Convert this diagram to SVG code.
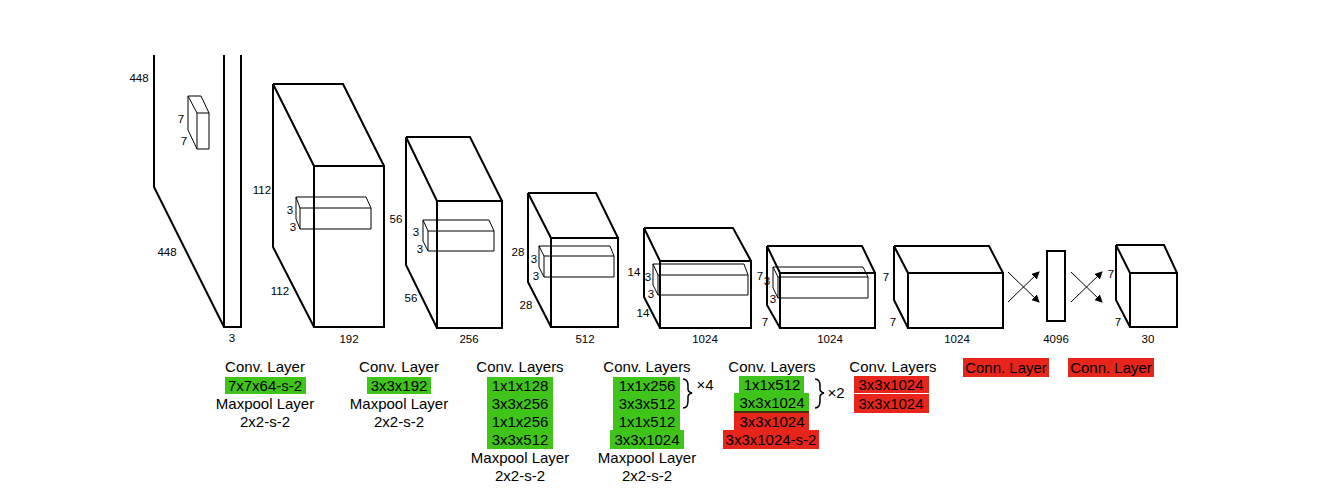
<svg xmlns="http://www.w3.org/2000/svg" width="1339" height="501" viewBox="0 0 1339 501">
<style>
.b{fill:none;stroke:#000;stroke-width:2;stroke-linejoin:miter}
.i{fill:none;stroke:#000;stroke-width:1}
.d{font-family:"Liberation Sans",Arial,sans-serif;font-size:11.5px;fill:#000;text-anchor:middle}
.t{font-family:"Liberation Sans",Arial,sans-serif;font-size:15px;fill:#000;text-anchor:middle}
.g{fill:#3fc51a}
.r{fill:#e8251b}
</style>
<defs><marker id="ah" markerWidth="8" markerHeight="8" refX="7" refY="4" orient="auto" markerUnits="userSpaceOnUse"><path d="M0,0 L8,4 L0,8 Z" fill="#000"/></marker></defs>
<rect width="1339" height="501" fill="#fff"/>
<g id="input">
<path class="b" d="M154,55 V187 L224,327 M224,55 V327 H241 V55"/>
<path class="i" d="M197,113 H209 V149 H197 Z M188,96 H201 L209,113 M188,96 L197,113 M188,96 V130 L197,149"/>
<text class="d" x="139" y="82">448</text><text class="d" x="181" y="123">7</text><text class="d" x="184" y="145">7</text><text class="d" x="167" y="256">448</text><text class="d" x="232" y="342">3</text>
</g>
<g id="conv1">
<path class="b" d="M314,166 H384 V327 H314 Z M273,84 H343 L384,166 M273,84 L314,166 M273,84 V247 L314,327"/>
<path class="i" d="M300,208 H371 V229 H300 Z M296,197 H366 L371,208 M296,197 L300,208 M296,197 V219 L300,229"/>
<text class="d" x="262" y="194">112</text><text class="d" x="290" y="214">3</text><text class="d" x="293" y="231">3</text><text class="d" x="280" y="295">112</text><text class="d" x="349" y="343">192</text>
</g>
<g id="conv2">
<path class="b" d="M437,201 H502 V328 H437 Z M406,137 H470 L502,201 M406,137 L437,201 M406,137 V265 L437,328"/>
<path class="i" d="M428,231 H494 V251 H428 Z M423,220 H489 L494,231 M423,220 L428,231 M423,220 V241 L428,251"/>
<text class="d" x="396" y="223">56</text><text class="d" x="416" y="236">3</text><text class="d" x="420" y="253">3</text><text class="d" x="411" y="302">56</text><text class="d" x="469" y="343">256</text>
</g>
<g id="conv3">
<path class="b" d="M551,238 H618 V327 H551 Z M528,193 H596 L618,238 M528,193 L551,238 M528,193 V282 L551,327"/>
<path class="i" d="M544,256 H614 V277 H544 Z M539,246 H610 L614,256 M539,246 L544,256 M539,246 V267 L544,277"/>
<text class="d" x="518" y="256">28</text><text class="d" x="534" y="263">3</text><text class="d" x="536" y="280">3</text><text class="d" x="526" y="309">28</text><text class="d" x="585" y="343">512</text>
</g>
<g id="conv4">
<path class="b" d="M660,261 H751 V328 H660 Z M644,228 H733 L751,261 M644,228 L660,261 M644,228 V297 L660,328"/>
<path class="i" d="M658,275 H748 V295 H658 Z M653,264 H744 L748,275 M653,264 L658,275 M653,264 V285 L658,295"/>
<text class="d" x="634" y="276">14</text><text class="d" x="648" y="281">3</text><text class="d" x="651" y="298">3</text><text class="d" x="643" y="317">14</text><text class="d" x="705" y="343">1024</text>
</g>
<g id="conv5">
<path class="b" d="M780,273 H875 V328 H780 Z M767,246 H862 L875,273 M767,246 L780,273 M767,246 V305 L780,328"/>
<path class="i" d="M778,277 H868 V298 H778 Z M773,267 H863 L868,277 M773,267 L778,277 M773,267 V288 L778,298"/>
<text class="d" x="760" y="280">7</text><text class="d" x="767" y="285">3</text><text class="d" x="773" y="303">3</text><text class="d" x="765" y="326">7</text><text class="d" x="830" y="343">1024</text>
</g>
<g id="conv6">
<path class="b" d="M908,273 H1003 V328 H908 Z M894,246 H989 L1003,273 M894,246 L908,273 M894,246 V300 L908,328"/>
<text class="d" x="886" y="281">7</text><text class="d" x="893" y="326">7</text><text class="d" x="957" y="343">1024</text>
</g>
<g id="fc1">
<rect class="b" x="1047" y="251" width="18" height="70"/>
<text class="d" x="1056" y="343">4096</text>
</g>
<g id="output">
<path class="b" d="M1130,273 H1177 V327 H1130 Z M1116,245 H1164 L1177,273 M1116,245 L1130,273 M1116,245 V300 L1130,327"/>
<text class="d" x="1111" y="278">7</text><text class="d" x="1118" y="326">7</text><text class="d" x="1148" y="343">30</text>
</g>
<g id="connectors" stroke="#000" stroke-width="1" fill="none">
<path d="M1008,302 L1039,272" marker-end="url(#ah)"/>
<path d="M1008,272 L1039,302" marker-end="url(#ah)"/>
<path d="M1071,302 L1102,272" marker-end="url(#ah)"/>
<path d="M1071,272 L1102,302" marker-end="url(#ah)"/>
</g>
<g id="labels">
<rect class="g" x="225" y="377" width="81" height="17"/>
<text class="t" x="265" y="372">Conv. Layer</text>
<text class="t" x="265" y="391">7x7x64-s-2</text>
<text class="t" x="265" y="409">Maxpool Layer</text>
<text class="t" x="265" y="427">2x2-s-2</text>

<rect class="g" x="367" y="377" width="64" height="17"/>
<text class="t" x="399" y="372">Conv. Layer</text>
<text class="t" x="399" y="391">3x3x192</text>
<text class="t" x="399" y="409">Maxpool Layer</text>
<text class="t" x="399" y="427">2x2-s-2</text>

<rect class="g" x="487" y="377" width="66" height="72"/>
<text class="t" x="520" y="372">Conv. Layers</text>
<text class="t" x="520" y="391">1x1x128</text>
<text class="t" x="520" y="409">3x3x256</text>
<text class="t" x="520" y="427">1x1x256</text>
<text class="t" x="520" y="445">3x3x512</text>
<text class="t" x="520" y="463">Maxpool Layer</text>
<text class="t" x="520" y="481">2x2-s-2</text>

<rect class="g" x="613" y="377" width="67" height="53"/>
<rect class="g" x="610" y="430" width="74" height="19"/>
<text class="t" x="647" y="372">Conv. Layers</text>
<text class="t" x="647" y="391">1x1x256</text>
<text class="t" x="647" y="409">3x3x512</text>
<text class="t" x="647" y="427">1x1x512</text>
<text class="t" x="647" y="445">3x3x1024</text>
<text class="t" x="647" y="463">Maxpool Layer</text>
<text class="t" x="647" y="481">2x2-s-2</text>
<path d="M683,379 Q688,379 688,386 V389 Q688,392 692,393 Q688,394 688,397 V401 Q688,408 683,408" fill="none" stroke="#000" stroke-width="1.5"/>
<text class="t" x="705" y="390">×4</text>

<rect class="g" x="739" y="376" width="65" height="17"/>
<rect class="g" x="734" y="393" width="75" height="18"/>
<rect x="734" y="411" width="75" height="2" fill="#4a2a10"/>
<rect class="r" x="734" y="413" width="75" height="17"/>
<rect class="r" x="723" y="430" width="96" height="19"/>
<text class="t" x="772" y="372">Conv. Layers</text>
<text class="t" x="772" y="390">1x1x512</text>
<text class="t" x="772" y="408">3x3x1024</text>
<text class="t" x="772" y="427">3x3x1024</text>
<text class="t" x="771" y="445">3x3x1024-s-2</text>
<path d="M815,379 Q820,379 820,386 V389 Q820,392 824,393 Q820,394 820,397 V401 Q820,408 815,408" fill="none" stroke="#000" stroke-width="1.5"/>
<text class="t" x="836" y="398">×2</text>

<rect class="r" x="854" y="376" width="75" height="17"/>
<rect class="r" x="854" y="394" width="75" height="19"/>
<text class="t" x="893" y="372">Conv. Layers</text>
<text class="t" x="891" y="390">3x3x1024</text>
<text class="t" x="891" y="409">3x3x1024</text>

<rect class="r" x="963" y="358" width="86" height="19"/>
<text class="t" x="1006" y="373">Conn. Layer</text>
<rect class="r" x="1068" y="358" width="86" height="19"/>
<text class="t" x="1111" y="373">Conn. Layer</text>
</g>
</svg>
